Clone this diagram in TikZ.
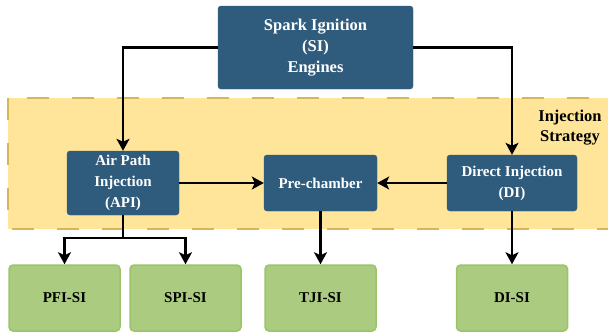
\documentclass[tikz,border=0pt]{standalone}
\usepackage{fontspec}
\setmainfont{Liberation Serif}
\usetikzlibrary{arrows.meta}

\definecolor{sibox}{HTML}{2F5B7C}
\definecolor{sigreen}{HTML}{ABCB80}
\definecolor{sigreenline}{HTML}{9BC46A}
\definecolor{bandfill}{HTML}{FFE599}
\definecolor{bandline}{HTML}{D6B656}

\tikzset{
  bluebox/.style={draw=sibox, fill=sibox, rounded corners=3pt, text=white,
    font=\fontsize{15}{21}\selectfont\bfseries, align=center, inner sep=0pt},
  greenbox/.style={draw=sigreenline, fill=sigreen, line width=1.5pt, rounded corners=4pt,
    font=\fontsize{15}{20}\selectfont\bfseries, minimum width=111pt, minimum height=66pt, inner sep=0pt},
  arr/.style={line width=2.2pt, -{Stealth[length=12pt,width=13pt,inset=3pt]}},
}

\begin{document}
\begin{tikzpicture}[x=1pt,y=-1pt]
  \useasboundingbox (0,0) rectangle (608,335);
  \clip (0,0) rectangle (608,335);

  % injection strategy band
  \draw[fill=bandfill, draw=bandline, line width=2.5pt, dash pattern=on 22pt off 23pt]
    (8,98) rectangle (640,229);
  \node[font=\fontsize{16.5}{20}\selectfont\bfseries, align=center] (strategy) at (570,128)
    {Injection\\Strategy};

  % blue boxes
  \node[bluebox, minimum width=195pt, minimum height=83pt,
    font=\fontsize{16.5}{21}\selectfont\bfseries] (si) at (315.5,47.5)
    {Spark Ignition\\(SI)\\Engines};
  \node[bluebox, minimum width=112pt, minimum height=64pt] (api) at (123,183)
    {Air Path\\Injection\\(API)};
  \node[bluebox, minimum width=113pt, minimum height=56pt] (pre) at (320.5,183)
    {Pre-chamber};
  \node[bluebox, minimum width=130pt, minimum height=56pt] (di) at (512,183)
    {Direct Injection\\(DI)};

  % green boxes
  \node[greenbox] (pfi) at (64.5,298) {PFI-SI};
  \node[greenbox] (spi) at (185.5,298) {SPI-SI};
  \node[greenbox] (tji) at (320.5,298) {TJI-SI};
  \node[greenbox] (disi) at (512,298) {DI-SI};

  % connectors
  \draw[arr] (si.west) -| (api.north);
  \draw[arr] (si.east) -| (di.north);
  \draw[arr] (api.east) -- (pre.west);
  \draw[arr] (di.west) -- (pre.east);
  \draw[arr] (api.south) -- ++(0,23) coordinate (split) -| (pfi.north);
  \draw[arr] (split) -| (spi.north);
  \draw[arr] (pre.south) -- (tji.north);
  \draw[arr] (di.south) -- (disi.north);
\end{tikzpicture}
\end{document}
